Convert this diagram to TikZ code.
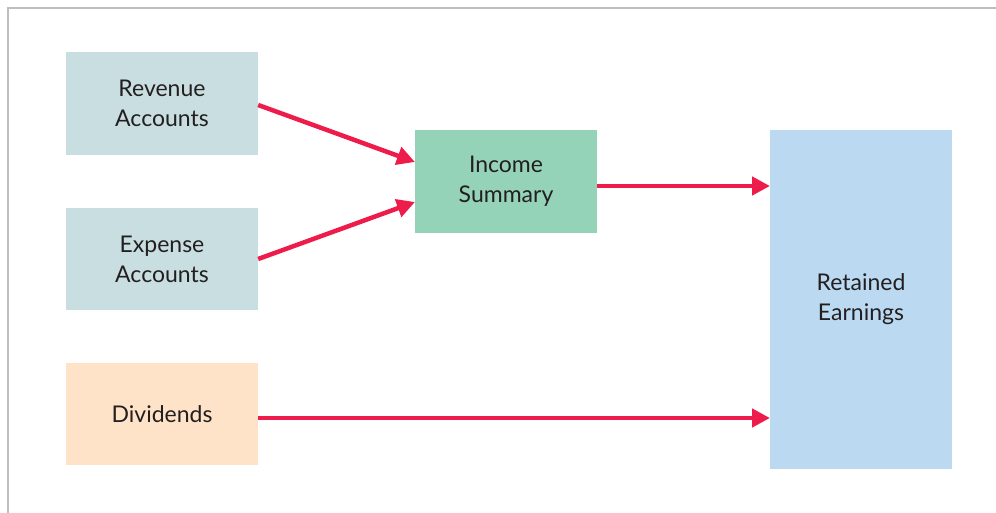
\documentclass[tikz,border=0pt]{standalone}
\usepackage{fontspec}
\setmainfont{Lato}
\usetikzlibrary{arrows.meta}
\definecolor{acctfill}{HTML}{C9DEE0}
\definecolor{incfill}{HTML}{95D3B9}
\definecolor{refill}{HTML}{BBDAF2}
\definecolor{divfill}{HTML}{FFE3C8}
\definecolor{flowred}{HTML}{EE1C4A}
\definecolor{framegray}{HTML}{BEBEBE}
\definecolor{txt}{HTML}{231F20}
\begin{document}
\begin{tikzpicture}[x=1pt,y=-1pt,
  box/.style={draw=none,minimum width=#1,inner sep=0pt,align=center,
    font=\fontsize{23}{30}\selectfont,text=txt},
  flow/.style={draw=flowred,line width=4.5pt,-{Triangle[length=18pt,width=18pt]}}]
\useasboundingbox (0,0) rectangle (996,513);
% frame along the top and left edges
\draw[framegray,line width=2pt] (8,513) -- (8,8) -- (996,8);
% account boxes
\node[box=192pt,fill=acctfill,minimum height=103pt] (rev) at (162,103.5) {Revenue\\Accounts};
\node[box=192pt,fill=acctfill,minimum height=102pt] (exp) at (162,259) {Expense\\Accounts};
\node[box=192pt,fill=divfill,minimum height=102pt] (div) at (162,414) {Dividends};
\node[box=182pt,fill=incfill,minimum height=103pt] (inc) at (506,181.5) {Income\\Summary};
\node[box=182pt,fill=refill,minimum height=339pt] (re) at (861,299.5) {Retained\\Earnings};
% closing flows
\coordinate (incA) at (415,162);
\coordinate (incB) at (415,202);
\coordinate (reA) at (770,186);
\coordinate (reB) at (770,418);
\draw[flow] (rev.east |- 0,105) -- (incA);
\draw[flow] (exp.east |- 0,259) -- (incB);
\draw[flow] (inc.east |- reA) -- (reA);
\draw[flow] (div.east |- reB) -- (reB);
\end{tikzpicture}
\end{document}
